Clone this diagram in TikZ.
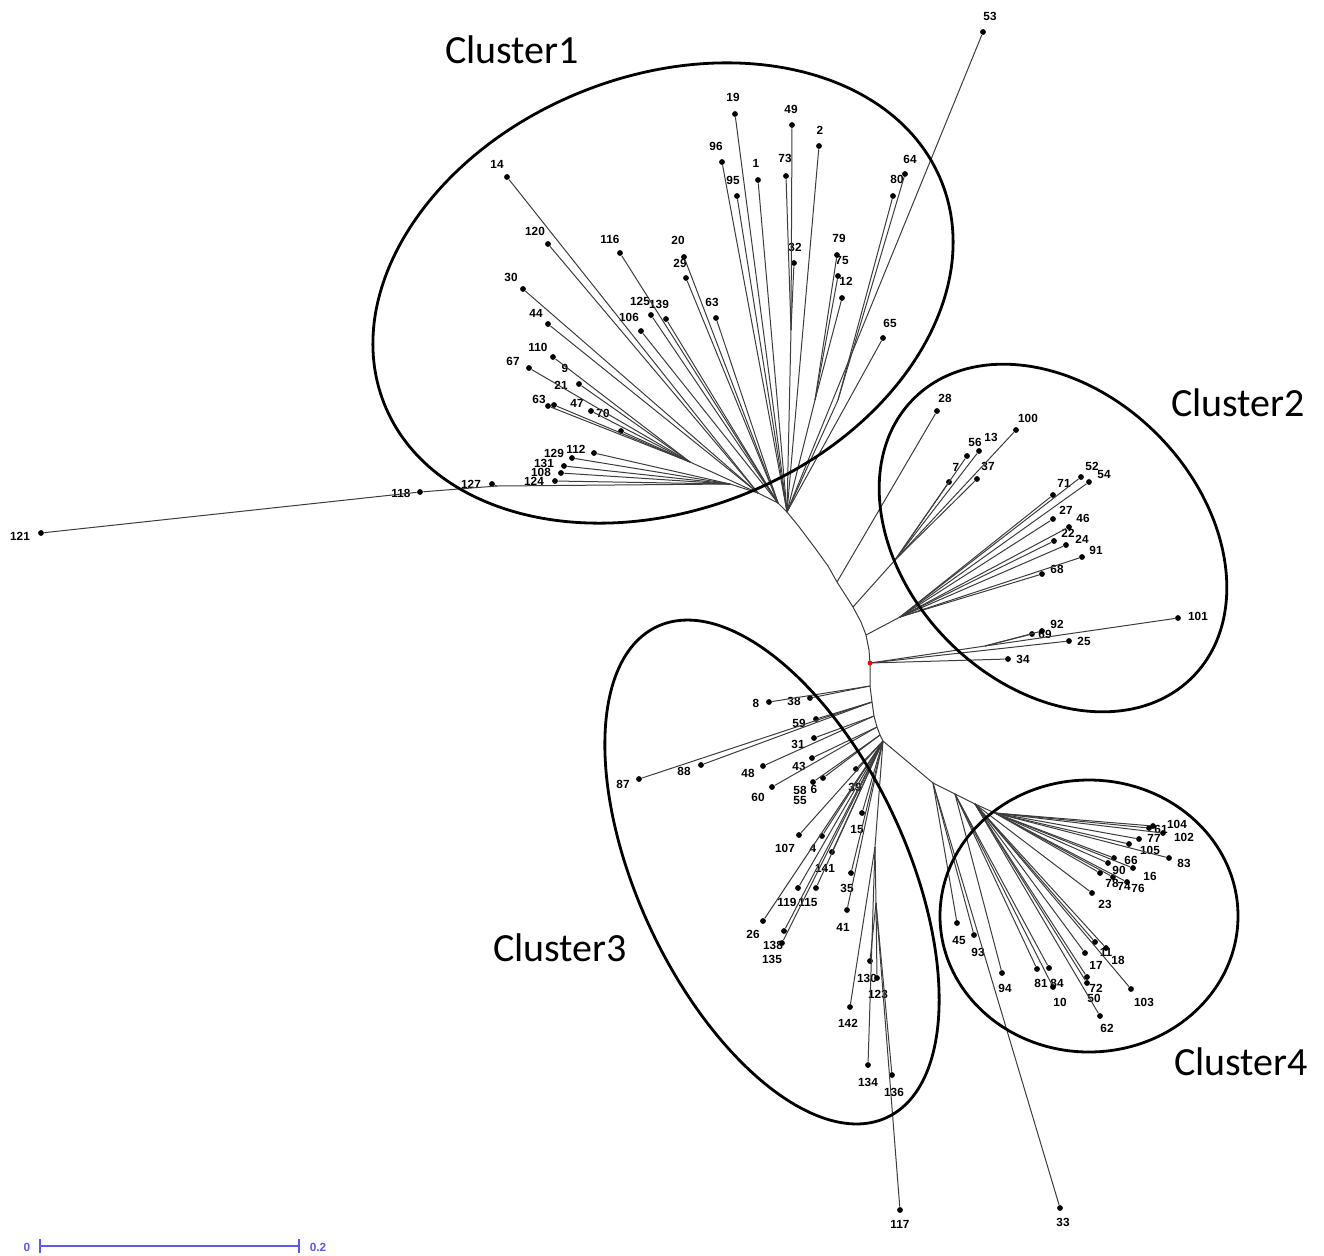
\documentclass[tikz,border=0pt]{standalone}
\usepackage{fontspec}
\setmainfont{Liberation Sans}
\newfontfamily\clusterfont{Carlito}
\definecolor{scaleblue}{RGB}{90,90,235}
\definecolor{branchgray}{RGB}{60,60,60}
\begin{document}
\begin{tikzpicture}[x=0.5pt,y=-0.5pt,
  br/.style={draw=branchgray, line width=0.5pt},
  leaf/.style={circle, fill=black, inner sep=0pt, minimum size=2.9pt},
  lab/.style={font=\bfseries\fontsize{5.9}{6}\selectfont, inner sep=0pt},
  hull/.style={draw=black, line width=1.4pt},
  ctitle/.style={font=\clusterfont\fontsize{20}{20}\selectfont, inner sep=0pt},
  bar/.style={draw=scaleblue, line width=0.7pt}]
\useasboundingbox (0,0) rectangle (1324,1255);

% ---------- leaves: name / dot x / dot y / label x / label y / text ----------
\foreach \n/\x/\y/\lx/\ly/\t in {
  14/507/177/497/164/14, 120/548/244/535/231/120, 116/620/253/610/239/116,
  30/523/289/511/277/30, 19/735/114/733/97/19, 49/792/125/791/109/49,
  2/819/146/820/130/2, 96/722/162/716/146/96, 1/758/180/756/163/1,
  73/786/176/785/158/73, 95/737/196/733/180/95, 64/905/174/910/159/64,
  80/893/196/897/179/80, 20/684/257/678/240/20, 29/686/278/680/263/29,
  32/794/263/795/247/32, 79/837/255/839/238/79, 75/838/276/842/260/75,
  12/842/298/846/281/12, 63/716/318/712/302/63, 65/883/338/890/323/65,
  125/651/315/640/301/125, 139/666/319/659/304/139, 106/641/331/629/317/106,
  44/548/324/536/313/44, 110/553/357/538/347/110, 9/579/384/565/368/9,
  67/529/368/513/361/67, 21/548/406/561/385/21, 63b/554/405/539/399/63,
  47/591/411/577/403/47, 70/621/431/603/413/70, 129/572/458/554/453/129,
  112/594/453/576/449/112, 131/564/466/544/463/131, 108/561/473/541/472/108,
  124/555/481/534/481/124, 127/492/484/471/484/127, 118/420/492/401/493/118,
  121/41/533/20/536/121, 53/983/32/990/16/53}
  {\node[leaf] (n\n) at (\x,\y) {}; \node[lab] (t\n) at (\lx,\ly) {\t};}

\foreach \n/\x/\y/\lx/\ly/\t in {
  28/937/411/945/398/28, 100/1016/430/1028/418/100, 56/967/456/975/442/56,
  13/979/451/991/437/13, 7/949/482/956/467/7, 37/977/479/988/466/37,
  71/1053/495/1064/483/71, 52/1081/477/1092/466/52, 54/1089/482/1104/474/54,
  27/1053/519/1066/510/27, 46/1069/527/1083/518/46, 22/1054/541/1068/533/22,
  24/1066/545/1082/539/24, 91/1082/557/1096/550/91, 68/1042/574/1057/569/68,
  101/1178/618/1198/616/101, 92/1042/631/1057/624/92, 69/1032/634/1045/634/69,
  25/1069/641/1084/641/25, 34/1008/659/1023/659/34}
  {\node[leaf] (n\n) at (\x,\y) {}; \node[lab] (t\n) at (\lx,\ly) {\t};}

\foreach \n/\x/\y/\lx/\ly/\t in {
  8/769/702/756/703/8, 38/810/698/794/701/38, 59/816/719/799/723/59,
  88/701/765/684/771/88, 87/639/779/623/784/87, 31/814/738/798/744/31,
  48/763/766/748/773/48, 43/812/758/799/766/43, 60/772/787/758/797/60,
  58/813/782/800/790/58, 6/823/778/814/789/6, 39/856/769/855/787/39,
  15/862/813/857/829/15, 107/799/835/785/848/107, 4/822/836/813/848/4,
  141/832/852/825/868/141, 119/798/888/787/902/119, 115/816/888/808/902/115,
  35/851/873/847/888/35, 41/847/910/843/927/41, 26/763/921/753/934/26,
  138/784/931/773/945/138, 135/782/943/772/959/135, 130/870/961/867/978/130,
  123/877/978/878/994/123, 142/850/1007/848/1023/142, 134/868/1065/868/1082/134,
  136/892/1075/894/1092/136, 117/900/1210/900/1224/117}
  {\node[leaf] (n\n) at (\x,\y) {}; \node[lab] (t\n) at (\lx,\ly) {\t};}
\node[lab] (t55) at (800,800) {55};

\foreach \n/\x/\y/\lx/\ly/\t in {
  45/957/923/959/940/45, 93/974/935/978/952/93, 94/1002/973/1005/988/94,
  81/1037/969/1041/983/81, 84/1049/968/1057/983/84, 10/1053/987/1060/1002/10,
  17/1085/953/1096/965/17, 11/1095/942/1106/952/11, 18/1106/948/1118/960/18,
  72/1087/977/1096/988/72, 50/1087/983/1094/998/50, 103/1131/989/1144/1002/103,
  62/1100/1016/1107/1028/62, 23/1092/893/1105/904/23, 104/1153/826/1177/824/104,
  61/1149/828/1161/829/61, 102/1163/833/1184/837/102, 77/1139/839/1154/838/77,
  105/1129/844/1150/850/105, 83/1169/858/1184/863/83, 66/1114/858/1131/860/66,
  90/1108/863/1119/870/90, 16/1133/868/1150/876/16, 78/1100/873/1112/883/78,
  74/1113/877/1124/886/74, 76/1127/882/1138/888/76, 33/1060/1208/1063/1222/33}
  {\node[leaf] (n\n) at (\x,\y) {}; \node[lab] (t\n) at (\lx,\ly) {\t};}

% ---------- internal nodes ----------
\coordinate (H1) at (787,512);  \coordinate (H2) at (778,503);
\coordinate (H3) at (758,493);  \coordinate (H4) at (730,484);
\coordinate (H5) at (690,462);  \coordinate (J1) at (497,486);
\coordinate (C1) at (791,330);  \coordinate (C2) at (815,400);
\coordinate (C3) at (838,400);
\coordinate (B1) at (800,528);  \coordinate (B2) at (815,548);
\coordinate (B2b) at (828,566); \coordinate (P3) at (837,582);
\coordinate (B3) at (846,596);  \coordinate (P2) at (853,607);
\coordinate (B4) at (861,622);  \coordinate (P1) at (866,635);
\coordinate (B5) at (869,650);  \coordinate (R) at (870,663);
\coordinate (D1) at (870,686);  \coordinate (D2) at (872,702);
\coordinate (D3) at (874,716);  \coordinate (D4) at (877,727);
\coordinate (D5) at (880,735);  \coordinate (D6) at (883,741);
\coordinate (C4) at (895,560);  \coordinate (C5) at (900,617);
\coordinate (J2) at (985,646);
\coordinate (V1) at (875,847);  \coordinate (V2) at (876,903);
\coordinate (K) at (933,783);   \coordinate (K1) at (955,794);
\coordinate (K2) at (975,804);  \coordinate (K3) at (995,813);

% ---------- backbone ----------
\draw[br] (H1) -- (B1) -- (B2) -- (B2b) -- (P3) -- (B3) -- (P2) -- (B4) -- (P1)
  -- (B5) -- (R) -- (D1) -- (D2) -- (D3) -- (D4) -- (D5) -- (D6);

% ---------- first group ----------
\draw[br] (H1) -- (H2) -- (H3) -- (H4);
\foreach \m in {19,96,95,1,2,65,53} \draw[br] (H1) -- (n\m);
\draw[br] (H1) -- (C1); \draw[br] (H1) -- (C2); \draw[br] (H1) -- (C3);
\foreach \m in {49,73,32} \draw[br] (C1) -- (n\m);
\foreach \m in {79,75,12} \draw[br] (C2) -- (n\m);
\foreach \m in {80,64} \draw[br] (C3) -- (n\m);
\foreach \m in {63,29,20,139,125,106,116} \draw[br] (H2) -- (n\m);
\foreach \m in {120,14,30,44} \draw[br] (H3) -- (n\m);
\draw[br] (H3) -- (H5);
\foreach \m in {110,9,67,21,63b,47,70} \draw[br] (H5) -- (n\m);
\foreach \m in {112,129,131,108,124} \draw[br] (H4) -- (n\m);
\draw[br] (H4) -- (J1); \draw[br] (J1) -- (n127); \draw[br] (J1) -- (n118);
\draw[br] (n118) -- (n121);

% ---------- second group ----------
\draw[br] (P3) -- (n28);
\draw[br] (P2) -- (C4);
\foreach \m in {7,56,13,37,100} \draw[br] (C4) -- (n\m);
\draw[br] (P1) -- (C5);
\foreach \m in {27,46,22,24,91,68,71,52,54} \draw[br] (C5) -- (n\m);
\draw[br] (R) -- (J2);
\foreach \m in {101,69,92} \draw[br] (J2) -- (n\m);
\draw[br] (R) -- (n25); \draw[br] (R) -- (n34);

% ---------- third group ----------
\draw[br] (D1) -- (n38); \draw[br] (D1) -- (n8);
\foreach \m in {59,88,87} \draw[br] (D2) -- (n\m);
\foreach \m in {31,48} \draw[br] (D3) -- (n\m);
\foreach \m in {43,60} \draw[br] (D4) -- (n\m);
\foreach \m in {58,6} \draw[br] (D5) -- (n\m);
\foreach \m in {39,107,4,141,119,115,26,138,135,15,35,41} \draw[br] (D6) -- (n\m);
\draw[br] (D6) -- (V1);
\foreach \m in {142,134} \draw[br] (V1) -- (n\m);
\draw[br] (V1) -- (V2);
\foreach \m in {130,123,136,117} \draw[br] (V2) -- (n\m);

% ---------- fourth group ----------
\draw[br] (D6) -- (K) -- (K1) -- (K2) -- (K3);
\foreach \m in {45,93,33} \draw[br] (K) -- (n\m);
\foreach \m in {94,81,84,10} \draw[br] (K1) -- (n\m);
\foreach \m in {72,50,62,17,103,11,18,23} \draw[br] (K2) -- (n\m);
\foreach \m in {78,74,76,90,66,16,83,105,77,61,104,102} \draw[br] (K3) -- (n\m);

% root marker
\node[circle, fill=red, inner sep=0pt, minimum size=2.4pt] (rootdot) at (R) {};

% ---------- cluster outlines ----------
\draw[hull, rotate around={21.7:(663,293)}] (663,293) ellipse [x radius=300, y radius=217];
\draw[hull, rotate around={-45:(1053,538)}] (1053,538) ellipse [x radius=197, y radius=147];
\draw[hull, rotate around={-64.9:(772,872)}] (772,872) ellipse [x radius=271, y radius=134];
\draw[hull] (1089,916) ellipse [x radius=149, y radius=136];

\node[ctitle] (cl1) at (512,50) {Cluster1};
\node[ctitle] (cl2) at (1238,403) {Cluster2};
\node[ctitle] (cl3) at (560,948) {Cluster3};
\node[ctitle] (cl4) at (1241,1062) {Cluster4};

% ---------- scale bar ----------
\coordinate (s0) at (40,1246); \coordinate (s1) at (299,1246);
\draw[bar] (s0) -- (s1);
\draw[bar] (40,1239) -- (40,1253);
\draw[bar] (299,1239) -- (299,1253);
\node[lab, text=scaleblue] (sz) at (27,1247) {0};
\node[lab, text=scaleblue] (st) at (318,1247) {0.2};
\end{tikzpicture}
\end{document}
